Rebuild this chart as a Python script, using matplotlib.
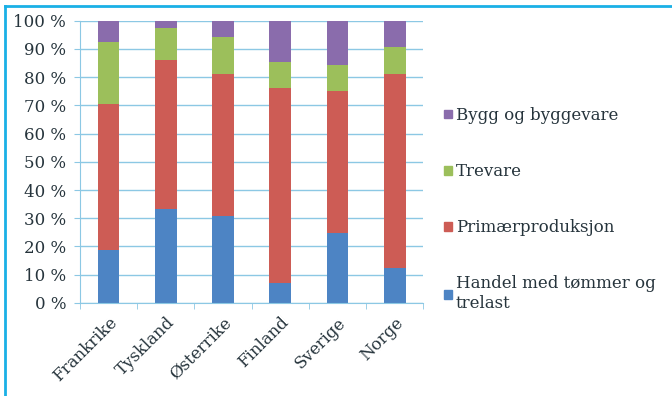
import numpy as np
import matplotlib.pyplot as plt
from matplotlib.patches import Rectangle
from matplotlib.lines import Line2D

# Data (share of total, %)
countries = ["Frankrike", "Tyskland", "Østerrike", "Finland", "Sverige", "Norge"]
handel = [18.7, 33.2, 30.9, 7.1, 24.6, 12.4]
primaer = [51.8, 53.0, 50.2, 68.9, 50.6, 68.6]
trevare = [21.9, 11.1, 13.2, 9.5, 9.1, 9.7]
bygg = [7.6, 2.7, 5.7, 14.5, 15.7, 9.3]

series = [
    ("Handel med tømmer og\ntrelast", handel, "#4d84c4"),
    ("Primærproduksjon", primaer, "#cd5c55"),
    ("Trevare", trevare, "#9cbf5b"),
    ("Bygg og byggevare", bygg, "#8a6cac"),
]

txt = "#26343c"
grid_c = "#8cc8e4"
fs = 12
plt.rcParams["font.family"] = ["DejaVu Serif"]

fig = plt.figure(figsize=(6.72, 3.96), dpi=100)
ax = fig.add_axes([0.119, 0.235, 0.511, 0.713])

x = np.arange(len(countries))
bottom = np.zeros(len(countries))
for label, vals, col in series:
    ax.bar(x, vals, width=0.38, bottom=bottom, color=col, label=label, zorder=2)
    bottom += np.array(vals)

ax.set_xlim(-0.5, len(countries) - 0.5)
ax.set_ylim(0, 100)
ax.set_yticks(np.arange(0, 101, 10))
ax.set_yticklabels([f"{v} %" for v in range(0, 101, 10)], fontsize=fs, color=txt)
ax.yaxis.grid(True, color=grid_c, linewidth=1, zorder=0)
ax.tick_params(axis="y", length=4, color=grid_c, pad=6)

ax.set_xticks(x)
ax.set_xticklabels(countries, rotation=45, ha="right", rotation_mode="anchor",
                   fontsize=fs, color=txt)
ax.set_xticks(np.arange(-0.5, len(countries)), minor=True)
ax.tick_params(axis="x", which="major", length=0, pad=8)
ax.tick_params(axis="x", which="minor", length=4, color=grid_c)

for s in ["top", "right"]:
    ax.spines[s].set_visible(False)
ax.spines["left"].set_color(grid_c)
ax.spines["bottom"].set_color(grid_c)

handles = [Rectangle((0, 0), 1, 1, color=c) for _, _, c in series][::-1]
labels = [l for l, _, _ in series][::-1]
leg = fig.legend(handles, labels, loc="upper left", bbox_to_anchor=(0.661, 0.73),
                 frameon=False, fontsize=fs, handlelength=0.45, handleheight=0.45,
                 handletextpad=0.25, labelspacing=2.35, borderpad=0, borderaxespad=0)
for t in leg.get_texts():
    t.set_color(txt)

# outer frame (top and left edges)
frame_c = "#1ab0e6"
fig.add_artist(Line2D([0.007, 1.0], [0.985, 0.985], color=frame_c, lw=2,
                      transform=fig.transFigure))
fig.add_artist(Line2D([0.008, 0.008], [0.0, 0.985], color=frame_c, lw=2,
                      transform=fig.transFigure))

fig.savefig("out.png", dpi=100)
